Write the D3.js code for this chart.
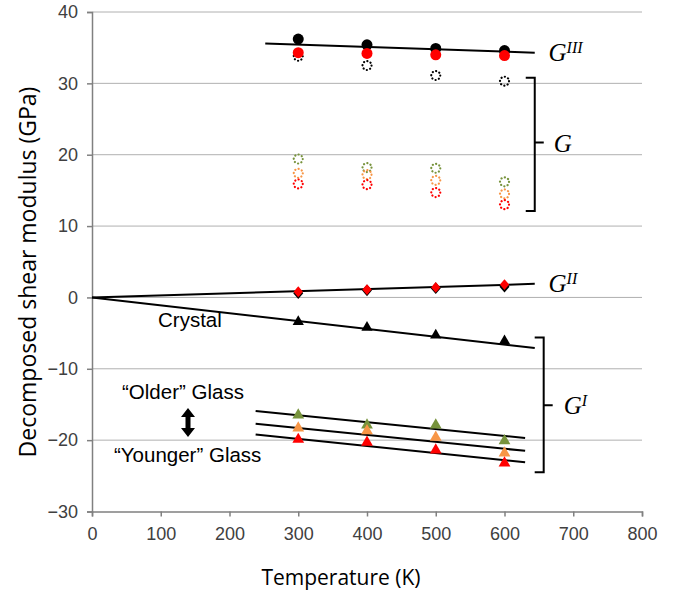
<!DOCTYPE html>
<html>
<head>
<meta charset="utf-8">
<script src="https://cdn.jsdelivr.net/npm/d3@7"></script>
<style>
  body { margin: 0; background: #fff; }
  .grid line { stroke: #b0b0b0; stroke-width: 1; }
  .fit { stroke: #000; stroke-width: 2; fill: none; }
  .bracket { stroke: #000; stroke-width: 2; fill: none; }
  .glabel { font-family: "Liberation Serif", "Times New Roman", serif; font-style: italic; font-size: 25px; fill: #000; }
  .note { font-family: "Liberation Sans", Arial, sans-serif; font-size: 20.5px; fill: #000; }
  .title { font-family: "Open Sans", sans-serif; font-size: 20px; fill: #000; }
</style>
</head>
<body>
<div id="chart"></div>
<script>
  'use strict';

  // temperatures (K)
  var temps = [ 300, 400, 500, 600 ];

  // G^III components (GPa)
  var gIIIBlack = [ 36.2, 35.4, 34.9, 34.6 ];
  var gIIIRed = [ 34.3, 34.2, 34.0, 33.9 ];

  // total G (dotted open circles)
  var gBlack = [ 33.8, 32.5, 31.1, 30.3 ];
  var gGreen = [ 19.4, 18.2, 18.1, 16.2 ];
  var gOrange = [ 17.4, 17.2, 16.4, 14.5 ];
  var gRed = [ 15.9, 15.8, 14.7, 13.0 ];

  // G^II components
  var gIIBlack = [ 0.6, 1.0, 1.3, 1.5 ];
  var gIIRed = [ 0.8, 1.1, 1.4, 1.8 ];

  // G^I components
  var gICrystal = [ -3.4, -4.2, -5.3, -6.1 ];
  var gIGreen = [ -16.5, -17.9, -17.9, -20.1 ];
  var gIOrange = [ -18.3, -18.7, -19.6, -21.8 ];
  var gIRed = [ -19.9, -20.3, -21.4, -23.2 ];

  // fitted lines, [temperature, GPa] end points
  var fitGIII = [ [ 252, 35.6 ], [ 644, 34.3 ] ];
  var fitGII = [ [ 0, 0 ], [ 644, 1.9 ] ];
  var fitCrystal = [ [ 0, 0 ], [ 644, -7.1 ] ];
  var fitOlder = [ [ 238, -15.9 ], [ 630, -19.7 ] ];
  var fitMiddle = [ [ 238, -17.7 ], [ 630, -21.5 ] ];
  var fitYounger = [ [ 238, -19.2 ], [ 630, -23.1 ] ];

  var xTicks = [ 0, 100, 200, 300, 400, 500, 600, 700, 800 ];
  var yTicks = [ -30, -20, -10, 0, 10, 20, 30, 40 ];

  var green = '#77933c',
    orange = '#f79646',
    red = '#ff0000';

  var width = 684,
    height = 593;

  var x = d3.scaleLinear().domain( [ 0, 800 ] ).range( [ 92, 642 ] );
  var y = d3.scaleLinear().domain( [ -30, 40 ] ).range( [ 511.5, 12 ] );

  var svg = d3.select( '#chart' )
    .append( 'svg' )
    .attr( 'width', width )
    .attr( 'height', height );

  // gridlines
  svg.append( 'g' )
    .attr( 'class', 'grid' )
    .selectAll( 'line' )
    .data( yTicks.filter( function( d ) { return d > -30; }) )
    .enter().append( 'line' )
    .attr( 'x1', x( 0 ) )
    .attr( 'x2', x( 800 ) )
    .attr( 'y1', function( d ) { return y( d ); })
    .attr( 'y2', function( d ) { return y( d ); });

  var yAxis = svg.append( 'g' )
    .attr( 'transform', 'translate(' + x( 0 ) + ',0)' )
    .call( d3.axisLeft( y ).tickValues( yTicks ).tickSize( 5 ).tickPadding( 9 ) );

  var xAxis = svg.append( 'g' )
    .attr( 'transform', 'translate(0,' + y( -30 ) + ')' )
    .call( d3.axisBottom( x ).tickValues( xTicks ).tickSize( 5 ).tickPadding( 11 ) );

  [ yAxis, xAxis ].forEach( function( ax ) {
    ax.attr( 'font-size', null ).attr( 'font-family', null );
    ax.select( '.domain' ).attr( 'stroke', '#808080' ).attr( 'stroke-width', 1.5 );
    ax.selectAll( '.tick line' ).attr( 'stroke', '#808080' ).attr( 'stroke-width', 1.5 );
    ax.selectAll( '.tick text' )
      .style( 'font-family', '"Liberation Sans", Arial, sans-serif' )
      .style( 'font-size', '18px' )
      .style( 'fill', '#404040' );
  });

  // axis titles
  svg.append( 'text' )
    .attr( 'class', 'title' )
    .style( 'font-size', '23px' )
    .attr( 'text-anchor', 'middle' )
    .attr( 'transform', 'translate(36,272) rotate(-90)' )
    .text( 'Decomposed shear modulus (GPa)' );

  svg.append( 'text' )
    .attr( 'class', 'title' )
    .style( 'font-size', '21px' )
    .attr( 'text-anchor', 'middle' )
    .attr( 'x', 341 )
    .attr( 'y', 585 )
    .text( 'Temperature (K)' );

  // fit lines
  var line = d3.line()
    .x( function( d ) { return x( d[0] ); })
    .y( function( d ) { return y( d[1] ); });

  [ fitGIII, fitGII, fitCrystal, fitOlder, fitMiddle, fitYounger ].forEach( function( f ) {
    svg.append( 'path' ).attr( 'class', 'fit' ).attr( 'd', line( f ) );
  });

  function pairs( vals ) {
    return vals.map( function( v, i ) { return [ temps[i], v ]; });
  }

  function dots( vals, color ) {
    svg.append( 'g' ).selectAll( 'circle' )
      .data( pairs( vals ) )
      .enter().append( 'circle' )
      .attr( 'cx', function( d ) { return x( d[0] ); })
      .attr( 'cy', function( d ) { return y( d[1] ); })
      .attr( 'r', 5.5 )
      .attr( 'fill', color );
  }

  function hollow( vals, color ) {
    svg.append( 'g' ).selectAll( 'circle' )
      .data( pairs( vals ) )
      .enter().append( 'circle' )
      .attr( 'cx', function( d ) { return x( d[0] ); })
      .attr( 'cy', function( d ) { return y( d[1] ); })
      .attr( 'r', 4.5 )
      .attr( 'fill', 'none' )
      .attr( 'stroke', color )
      .attr( 'stroke-width', 2.2 )
      .attr( 'stroke-linecap', 'round' )
      .attr( 'stroke-dasharray', '0.1,3.4' );
  }

  function marks( vals, color, type, size ) {
    var sym = d3.symbol().type( type ).size( size );
    svg.append( 'g' ).selectAll( 'path' )
      .data( pairs( vals ) )
      .enter().append( 'path' )
      .attr( 'd', sym )
      .attr( 'transform', function( d ) {
        return 'translate(' + x( d[0] ) + ',' + y( d[1] ) + ')';
      })
      .attr( 'fill', color );
  }

  hollow( gBlack, '#000' );
  dots( gIIIBlack, '#000' );
  dots( gIIIRed, red );

  hollow( gGreen, green );
  hollow( gOrange, orange );
  hollow( gRed, red );

  var diamond = {
    draw: function( ctx, size ) {
      var w = Math.sqrt( size ) * 0.6, h = Math.sqrt( size ) * 0.7;
      ctx.moveTo( 0, -h ); ctx.lineTo( w, 0 ); ctx.lineTo( 0, h ); ctx.lineTo( -w, 0 ); ctx.closePath();
    }
  };
  marks( gIIBlack, '#000', diamond, 70 );
  marks( gIIRed, red, diamond, 60 );

  marks( gICrystal, '#000', d3.symbolTriangle, 55 );
  marks( gIGreen, green, d3.symbolTriangle, 60 );
  marks( gIOrange, orange, d3.symbolTriangle, 60 );
  marks( gIRed, red, d3.symbolTriangle, 60 );

  // brackets
  function bracket( xv, top, bottom, mid ) {
    var bx = x( xv ), t = y( top ), b = y( bottom ), m = y( mid );
    svg.append( 'path' )
      .attr( 'class', 'bracket' )
      .attr( 'd', 'M' + ( bx - 9 ) + ',' + t + 'H' + bx + 'V' + b + 'H' + ( bx - 9 ) +
        'M' + bx + ',' + m + 'H' + ( bx + 9 ) );
    return bx;
  }

  function glabel( px, py, sup ) {
    var t = svg.append( 'text' ).attr( 'class', 'glabel' ).attr( 'x', px ).attr( 'y', py );
    t.append( 'tspan' ).text( 'G' );
    if ( sup ) {
      t.append( 'tspan' ).attr( 'dy', -8 ).style( 'font-size', '16px' ).text( sup );
    }
  }

  var bG = bracket( 644, 30.8, 12.1, 21.7 );
  glabel( bG + 19, y( 21.7 ) + 9, null );
  var bI = bracket( 657, -5.6, -24.5, -15.1 );
  glabel( bI + 20, y( -15.1 ) + 9, 'I' );

  glabel( x( 664 ), y( 34.3 ) + 8, 'III' );
  glabel( x( 664 ), y( 1.9 ) + 8, 'II' );

  // text notes
  svg.append( 'text' ).attr( 'class', 'note' ).attr( 'x', 158 ).attr( 'y', 327 ).text( 'Crystal' );
  svg.append( 'text' ).attr( 'class', 'note' ).attr( 'x', 122 ).attr( 'y', 399 ).text( '\u201cOlder\u201d Glass' );
  svg.append( 'text' ).attr( 'class', 'note' ).attr( 'x', 114 ).attr( 'y', 462 ).text( '\u201cYounger\u201d Glass' );

  // double arrow between glass labels
  var ax = 188, at = 408, ab = 437;
  svg.append( 'path' )
    .attr( 'd', 'M' + ax + ',' + at + 'L' + ( ax + 7 ) + ',' + ( at + 9 ) + 'H' + ( ax + 2.5 ) +
      'V' + ( ab - 9 ) + 'H' + ( ax + 7 ) + 'L' + ax + ',' + ab + 'L' + ( ax - 7 ) + ',' + ( ab - 9 ) +
      'H' + ( ax - 2.5 ) + 'V' + ( at + 9 ) + 'H' + ( ax - 7 ) + 'Z' )
    .attr( 'fill', '#000' );
</script>
</body>
</html>
